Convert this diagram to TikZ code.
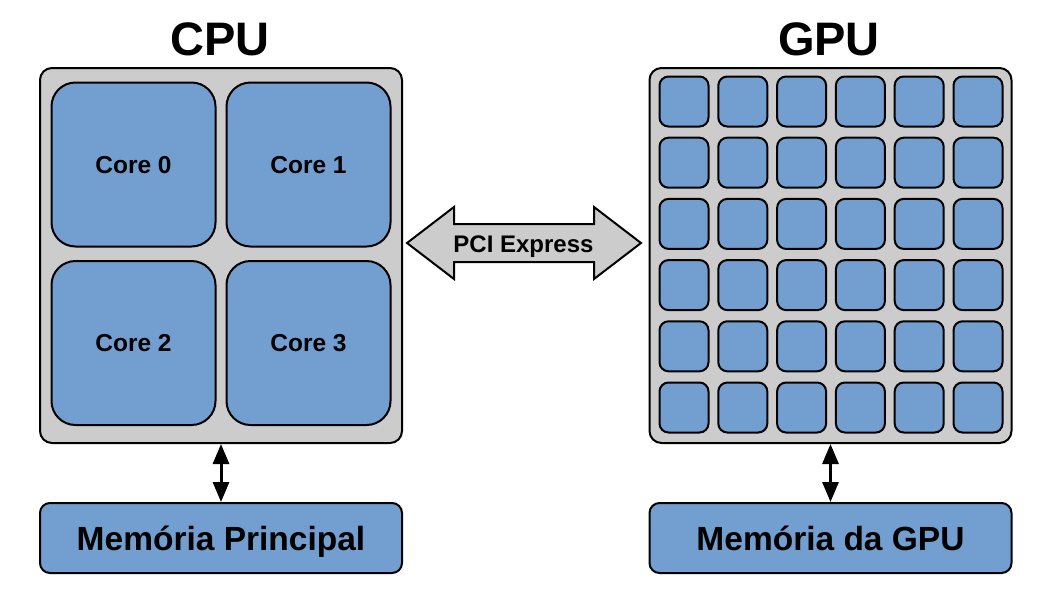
\documentclass[tikz,border=0pt]{standalone}
\usepackage{fontspec}
\setmainfont{Liberation Sans}
\usetikzlibrary{positioning,arrows.meta}
\definecolor{chipgray}{HTML}{CCCCCC}
\definecolor{coreblue}{HTML}{729FCF}
\tikzset{
  chip/.style={
    draw, line width=2pt, rounded corners=12pt, fill=chipgray,
    minimum width=362pt, minimum height=375pt, inner sep=0pt,
  },
  core/.style={
    draw, line width=2pt, rounded corners=24pt, fill=coreblue,
    minimum width=164pt, minimum height=164pt, inner sep=0pt,
    text height=17.5pt, text depth=0pt,
    font=\fontsize{24.5}{28}\selectfont\bfseries,
  },
  cell/.style={
    draw, line width=2pt, rounded corners=9pt, fill=coreblue,
    minimum width=49pt, minimum height=50pt, inner sep=0pt,
  },
  mem/.style={
    draw, line width=2pt, rounded corners=10pt, fill=coreblue,
    minimum width=362pt, minimum height=70pt, inner sep=0pt,
    text height=24pt, text depth=0pt,
    font=\fontsize{33.5}{38}\selectfont\bfseries,
  },
  title/.style={font=\fontsize{47}{54}\selectfont\bfseries, anchor=base},
  link/.style={{Triangle[length=20pt,width=16pt]}-{Triangle[length=20pt,width=16pt]}, line width=3pt},
  bus/.style={draw, line width=2pt, fill=chipgray, line join=miter},
  buslabel/.style={font=\fontsize{24}{28}\selectfont\bfseries,
    text height=17.2pt, text depth=0pt, inner sep=0pt},
}

\begin{document}
\begin{tikzpicture}[x=1pt, y=-1pt]
\useasboundingbox (0,0) rectangle (1050,603);

% CPU side
\node[title] (cputitle) at (220,55) {CPU};
\node[chip] (cpu) at (221,255.5) {};
\node[core] (core0) at (133.5,164.5) {Core 0};
\node[core] (core1) at (308.5,164.5) {Core 1};
\node[core] (core2) at (133.5,343) {Core 2};
\node[core] (core3) at (308.5,343) {Core 3};
\node[mem] (mainmem) at (221,538) {Memória Principal};
\draw[link] (cpu.south) -- (mainmem.north);

% GPU side
\node[title] (gputitle) at (829,55) {GPU};
\node[chip] (gpu) at (830.5,255.5) {};
\foreach \i in {0,...,5}
  \foreach \j in {0,...,5}
    \node[cell] (cell-\i-\j) at (684+58.8*\i, 101.5+61.2*\j) {};
\node[mem] (gpumem) at (830.5,538) {Memória da GPU};
\draw[link] (gpu.south) -- (gpumem.north);

% PCI Express bus
\draw[bus] (407,243) -- (454,207) -- (454,224) -- (594,224) -- (594,207)
  -- (641,243) -- (594,279) -- (594,262) -- (454,262) -- (454,279) -- cycle;
\node[buslabel] (pcie) at (523.5,243.5) {PCI Express};

\end{tikzpicture}
\end{document}
